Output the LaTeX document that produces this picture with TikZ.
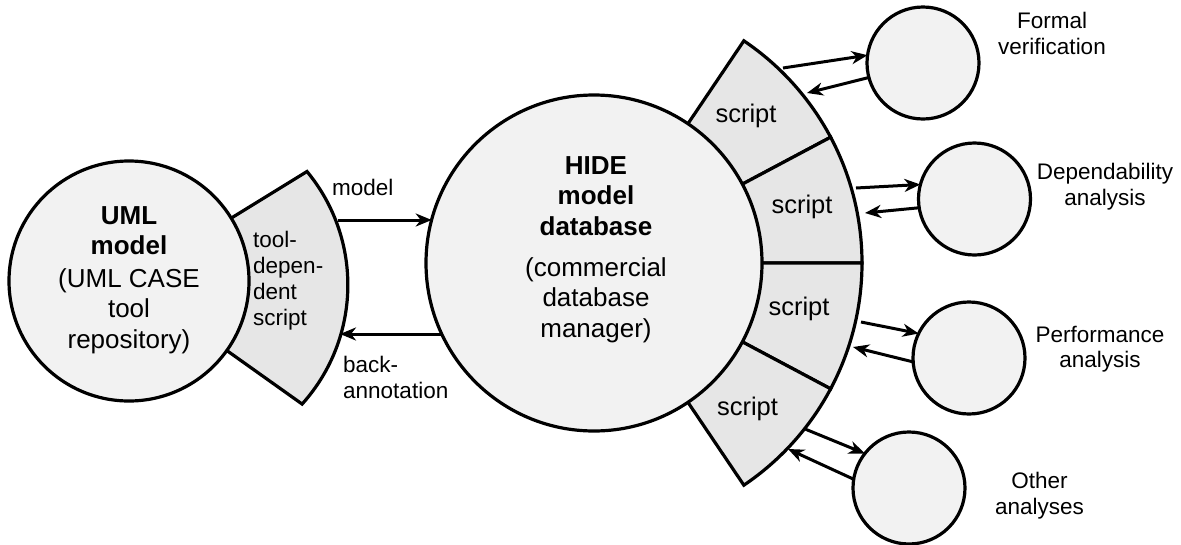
\documentclass[tikz,border=0pt]{standalone}
\usepackage{fontspec}
\setmainfont{Liberation Sans}
\usetikzlibrary{arrows.meta}
\definecolor{discfill}{HTML}{F2F2F2}
\definecolor{wedgefill}{HTML}{E6E6E6}
\begin{document}
\begin{tikzpicture}[x=1pt,y=1pt,
  disc/.style={circle,draw,line width=3.2pt,fill=discfill,inner sep=0pt,outer sep=0pt},
  wedge/.style={draw,line width=3.2pt,fill=wedgefill,line join=miter},
  arr/.style={line width=3pt,-{Stealth[length=16pt,width=13pt,inset=5pt]}},
  big/.style={font=\fontsize{26}{30.5}\selectfont,align=center,inner sep=0pt},
  small/.style={font=\fontsize{22.5}{25.5}\selectfont,inner sep=0pt},
  lbl/.style={font=\fontsize{25.5}{30}\selectfont,inner sep=0pt,anchor=base}]
\useasboundingbox (0,0) rectangle (1181,-544);

% centres of the two main discs
\coordinate (uc) at (129,-281);
\coordinate (hc) at (594,-263);

% wedge in front of the UML disc
\draw[wedge] (uc) -- (307,-171.5) arc[start angle=39.6,end angle=-42,radius=178] -- cycle;

% four script wedges around the HIDE disc
\foreach \a/\b in {56/28, 28/0, 0/-28, -28/-56}
  \draw[wedge] (hc) -- ++(\a:268) arc[start angle=\a,end angle=\b,radius=268] -- cycle;

% discs
\node[disc,minimum size=240pt] (uml) at (uc) {};
\node[disc,minimum size=336pt] (hide) at (hc) {};
\node[disc,minimum size=112pt] (fv) at (923,-63) {};
\node[disc,minimum size=112pt] (dp) at (974.5,-199) {};
\node[disc,minimum size=112pt] (pf) at (969,-358) {};
\node[disc,minimum size=112pt] (ot) at (909,-488) {};

% texts inside the discs
\node[big,anchor=north] (umltxt) at (129,-206)
  {\textbf{UML}\\\textbf{model}\\[2pt](UML CASE\\tool\\repository)};
\node[big,anchor=north] (hidetxt) at (596,-156)
  {\textbf{HIDE}\\\textbf{model}\\\textbf{database}\\[10.5pt](commercial\\database\\manager)};

% wedge labels
\node[small,align=left,anchor=north west,font=\fontsize{22.5}{26}\selectfont] (tds) at (253,-231)
  {tool-\\depen-\\dent\\script};
\node[lbl] (s1) at (746,-122) {script};
\node[lbl] (s2) at (802,-213) {script};
\node[lbl] (s3) at (799,-315) {script};
\node[lbl] (s4) at (747.5,-415) {script};

% connector labels
\node[small,anchor=base west] (mlbl) at (332,-195) {model};
\node[small,align=left,anchor=north west] (blbl) at (343,-356) {back-\\annotation};

% analysis labels
\node[small,align=center,anchor=north] (fvl) at (1052,-12) {Formal\\verification};
\node[small,align=center,anchor=north] (dpl) at (1105,-163) {Dependability\\analysis};
\node[small,align=center,anchor=north] (pfl) at (1100,-326) {Performance\\analysis};
\node[small,align=center,anchor=north] (otl) at (1039.5,-472) {Other\\analyses};

% arrow end points on the wedges
\coordinate (mA) at (338,-220);
\coordinate (bA) at (340,-334);
\coordinate (f1) at (783,-68);
\coordinate (f2) at (807,-93);
\coordinate (d1) at (856,-188);
\coordinate (d2) at (865,-213);
\coordinate (p1) at (861,-322);
\coordinate (p2) at (853,-347);
\coordinate (o1) at (805,-429);
\coordinate (o2) at (788,-449);

% arrows
\draw[arr] (mA) -- (hide.165 |- mA);
\draw[arr] (hide.205) -- (bA |- hide.205);
\draw[arr] (f1) -- (fv.172);
\draw[arr] (fv.195) -- (f2);
\draw[arr] (d1) -- (dp.165);
\draw[arr] (dp.189) -- (d2);
\draw[arr] (p1) -- (pf.154);
\draw[arr] (pf.184) -- (p2);
\draw[arr] (o1) -- (ot.142);
\draw[arr] (ot.171) -- (o2);
\end{tikzpicture}
\end{document}
